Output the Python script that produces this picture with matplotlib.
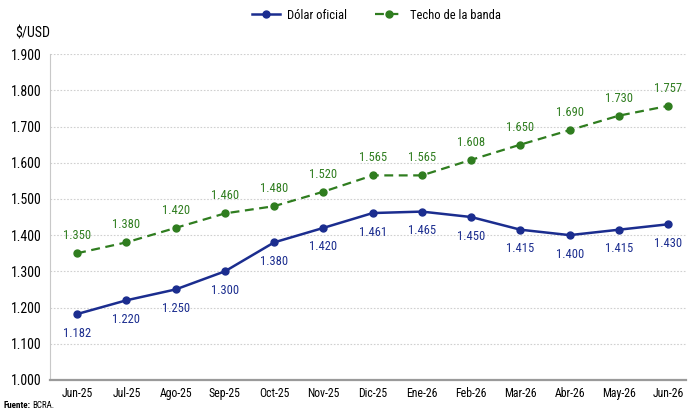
import matplotlib
matplotlib.use("Agg")
import matplotlib.pyplot as plt
from matplotlib import font_manager as fm

names = {f.name for f in fm.fontManager.ttflist}
fam = [n for n in ["Liberation Sans Narrow", "DejaVu Sans Condensed", "Roboto Condensed"] if n in names] + ["DejaVu Sans"]
plt.rcParams['font.family'] = fam

months = ["Jun-25", "Jul-25", "Ago-25", "Sep-25", "Oct-25", "Nov-25", "Dic-25",
          "Ene-26", "Feb-26", "Mar-26", "Abr-26", "May-26", "Jun-26"]
dolar = [1182, 1220, 1250, 1300, 1380, 1420, 1461, 1465, 1450, 1415, 1400, 1415, 1430]
techo = [1350, 1380, 1420, 1460, 1480, 1520, 1565, 1565, 1608, 1650, 1690, 1730, 1757]
yticks = [1000, 1100, 1200, 1300, 1400, 1500, 1600, 1700, 1800, 1900]

blue = "#1b2d8f"
green = "#2f7d1f"

def fmt(v):
    return f"{v/1000:.3f}"

fig = plt.figure(figsize=(6.91, 4.13), dpi=100)
ax = fig.add_axes([0.0724, 0.080, 0.921, 0.789])
x = list(range(len(months)))
ax.plot(x, dolar, color=blue, lw=1.8, marker="o", ms=5, label="Dólar oficial")
ax.plot(x, techo, color=green, lw=1.6, ls=(0, (4, 2.5)), marker="o", ms=5, label="Techo de la banda")

for xi, v in zip(x, dolar):
    ax.annotate(fmt(v), (xi, v), xytext=(0, -9), textcoords="offset points",
                ha="center", va="top", color=blue, fontsize=9)
for xi, v in zip(x, techo):
    ax.annotate(fmt(v), (xi, v), xytext=(0, 8), textcoords="offset points",
                ha="center", va="bottom", color=green, fontsize=9)

ax.set_xlim(-0.55, 12.37)
ax.set_ylim(1000, 1900)
ax.set_yticks(yticks)
ax.set_yticklabels([fmt(v) for v in yticks], fontsize=10)
ax.set_xticks(x)
ax.set_xticklabels(months, fontsize=8.5)
ax.tick_params(axis='x', length=0, pad=5)
ax.tick_params(axis='y', length=0, pad=6)
ax.grid(axis='y', color="#d0d0d0", ls=(0, (1.5, 1.5)), lw=0.8)
ax.set_axisbelow(True)
for s in ["top", "right"]:
    ax.spines[s].set_visible(False)
ax.spines["left"].set_color("#c8c8c8")
ax.spines["left"].set_linewidth(0.8)
ax.spines["bottom"].set_color("#9a9a9a")
ax.spines["bottom"].set_linewidth(1.6)

fig.text(0.022, 0.92, "$/USD", fontsize=10, ha="left", va="center")
t = fig.text(0.005, 0.008, "Fuente:", fontsize=6.5, fontweight="bold", ha="left", va="bottom")
fig.canvas.draw()
bb = t.get_window_extent()
fig.text((bb.x1 + 2) / fig.bbox.width, 0.008, "BCRA.", fontsize=6.5, ha="left", va="bottom")
fig.legend(loc="center", bbox_to_anchor=(0.545, 0.963), ncol=2, frameon=False,
           fontsize=9, handlelength=2.2, handletextpad=0.6, columnspacing=2.2)
fig.savefig("out.png", dpi=100)
